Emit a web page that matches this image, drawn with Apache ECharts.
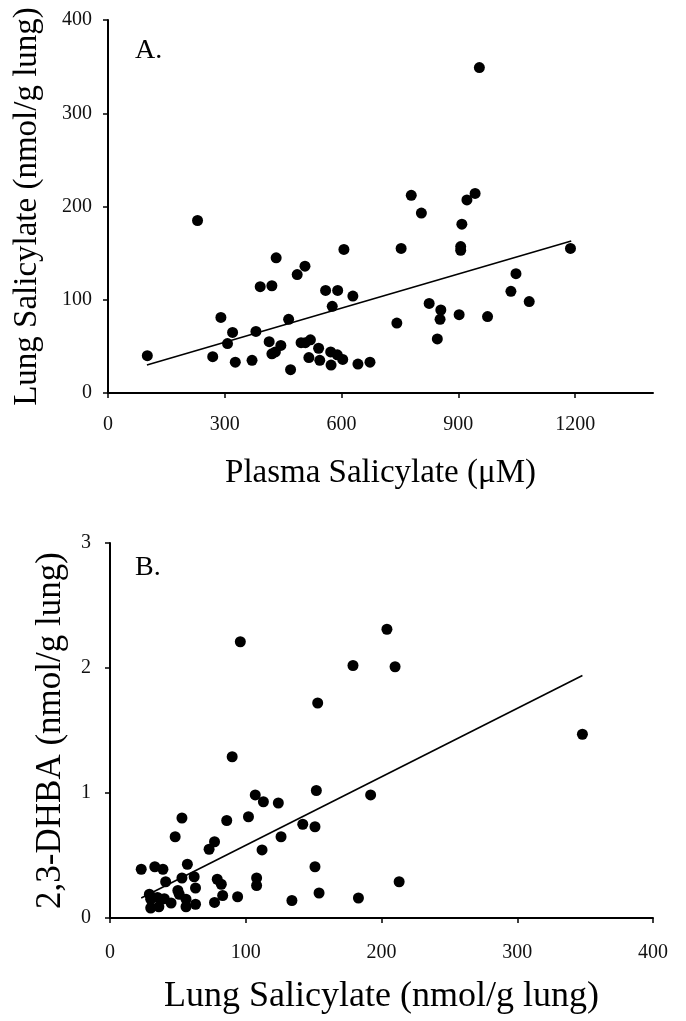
<!DOCTYPE html>
<html>
<head>
<meta charset="utf-8">
<script src="https://cdn.jsdelivr.net/npm/echarts@6/dist/echarts.min.js"></script>
<style>
  html, body { margin: 0; padding: 0; background: #fff; }
  #chart { width: 686px; height: 1021px; }
</style>
</head>
<body>
<div id="chart"></div>
<script>
'use strict';
// panel A: plasma salicylate (uM) vs lung salicylate (nmol/g lung)
var plasmaA = [101, 230, 269, 290, 307, 320, 327, 370, 380, 391, 414, 421, 432, 421, 430, 444, 464, 469, 486, 506,
  496, 507, 520, 516, 541, 544, 559, 576, 572, 573, 589, 590, 603, 606, 629, 642, 673, 954, 779, 805,
  753, 742, 943, 922, 909, 906, 906, 825, 855, 853, 846, 902, 975, 1048, 1035, 1082, 1188];
var lungA = [40, 185, 39, 81, 53, 65, 33, 35, 66, 114, 55, 115, 145, 42, 44, 51, 79, 25, 127, 136,
  54, 54, 57, 38, 48, 35, 110, 93, 44, 30, 41, 110, 36, 154, 104, 31, 33, 349, 212, 193,
  155, 75, 214, 207, 181, 153, 157, 96, 89, 79, 58, 84, 82, 128, 109, 98, 155];
var fitAx = [100, 1190];
var fitAy = [30, 163];
var ticksAx = [0, 300, 600, 900, 1200];

// panel B: lung salicylate vs 2,3-DHBA (nmol/g lung)
var lungB = [96, 204, 179, 210, 153, 90, 152, 192, 107, 113, 124, 102, 86, 53, 48, 142, 151, 126, 77, 73,
  112, 23, 33, 39, 57, 41, 53, 62, 63, 79, 82, 108, 108, 151, 29, 31, 35, 40, 30, 36,
  45, 50, 51, 56, 56, 63, 77, 83, 94, 134, 154, 183, 30, 348, 213];
var dhbaB = [2.21, 2.31, 2.02, 2.01, 1.72, 1.29, 1.02, 0.985, 0.985, 0.93, 0.92, 0.81, 0.78, 0.80, 0.65, 0.75, 0.73, 0.65, 0.61, 0.55,
  0.545, 0.39, 0.41, 0.39, 0.43, 0.29, 0.32, 0.33, 0.24, 0.31, 0.27, 0.32, 0.26, 0.41, 0.19, 0.165, 0.165, 0.155, 0.08, 0.09,
  0.12, 0.22, 0.19, 0.15, 0.09, 0.11, 0.125, 0.18, 0.17, 0.14, 0.20, 0.16, 0.15, 1.47, 0.29];
var fitBx = [23, 348];
var fitBy = [0.16, 1.94];

function pairs(xs, ys) {
  return xs.map(function (x, i) { return [x, ys[i]]; });
}

var font = '"Liberation Serif", "DejaVu Serif", serif';
var axisLine = { lineStyle: { color: '#000', width: 2 } };

function label(margin) {
  return { margin: margin, fontFamily: font, fontSize: 20, color: '#111', formatter: function (v) { return String(v); } };
}

function xAxis(idx, max, interval, name, nameSize, nameGap, margin, custom) {
  var a = {
    type: 'value', gridIndex: idx, min: 0, max: max, interval: interval,
    name: name, nameLocation: 'middle', nameGap: nameGap,
    nameTextStyle: { fontFamily: font, fontSize: nameSize, color: '#000' },
    axisLine: axisLine,
    axisTick: { length: 5, lineStyle: { color: '#000', width: 1.5 } },
    axisLabel: label(margin),
    splitLine: { show: false }
  };
  if (custom) {
    a.axisTick.customValues = custom;
    a.axisLabel.customValues = custom;
  }
  return a;
}

function yAxis(idx, max, interval, name, nameSize, nameGap, margin) {
  return {
    type: 'value', gridIndex: idx, min: 0, max: max, interval: interval,
    name: name, nameLocation: 'middle', nameGap: nameGap,
    nameTextStyle: { fontFamily: font, fontSize: nameSize, color: '#000' },
    axisLine: axisLine,
    axisTick: { length: 5, lineStyle: { color: '#000', width: 1.5 } },
    axisLabel: label(margin),
    splitLine: { show: false }
  };
}

var dot = { type: 'scatter', symbolSize: 11, itemStyle: { color: '#000', opacity: 1 }, z: 3 };
var fit = { type: 'line', symbol: 'none', lineStyle: { color: '#000', width: 1.6 }, z: 2 };
var panelText = { fontFamily: font, fontSize: 28, fontWeight: 'normal', color: '#000' };

var chart = echarts.init(document.getElementById('chart'));
chart.setOption({
  backgroundColor: '#fff',
  animation: false,
  title: [
    { text: 'A.', left: 135, top: 37, padding: 0, textStyle: panelText },
    { text: 'B.', left: 135, top: 554, padding: 0, textStyle: panelText }
  ],
  grid: [
    { left: 108, top: 20, width: 545, height: 373 },
    { left: 110, top: 543, width: 543, height: 375 }
  ],
  xAxis: [
    xAxis(0, 1400, 300, 'Plasma Salicylate (\u03bcM)', 33, 64, 22, ticksAx),
    xAxis(1, 400, 100, 'Lung Salicylate (nmol/g lung)', 36, 61, 25)
  ],
  yAxis: [
    yAxis(0, 400, 100, 'Lung Salicylate (nmol/g lung)', 33, 64, 16),
    yAxis(1, 3, 1, '2,3-DHBA (nmol/g lung)', 35, 42, 19)
  ],
  series: [
    Object.assign({}, dot, { xAxisIndex: 0, yAxisIndex: 0, data: pairs(plasmaA, lungA) }),
    Object.assign({}, fit, { xAxisIndex: 0, yAxisIndex: 0, data: pairs(fitAx, fitAy) }),
    Object.assign({}, dot, { xAxisIndex: 1, yAxisIndex: 1, data: pairs(lungB, dhbaB) }),
    Object.assign({}, fit, { xAxisIndex: 1, yAxisIndex: 1, data: pairs(fitBx, fitBy) })
  ]
});
</script>
</body>
</html>
